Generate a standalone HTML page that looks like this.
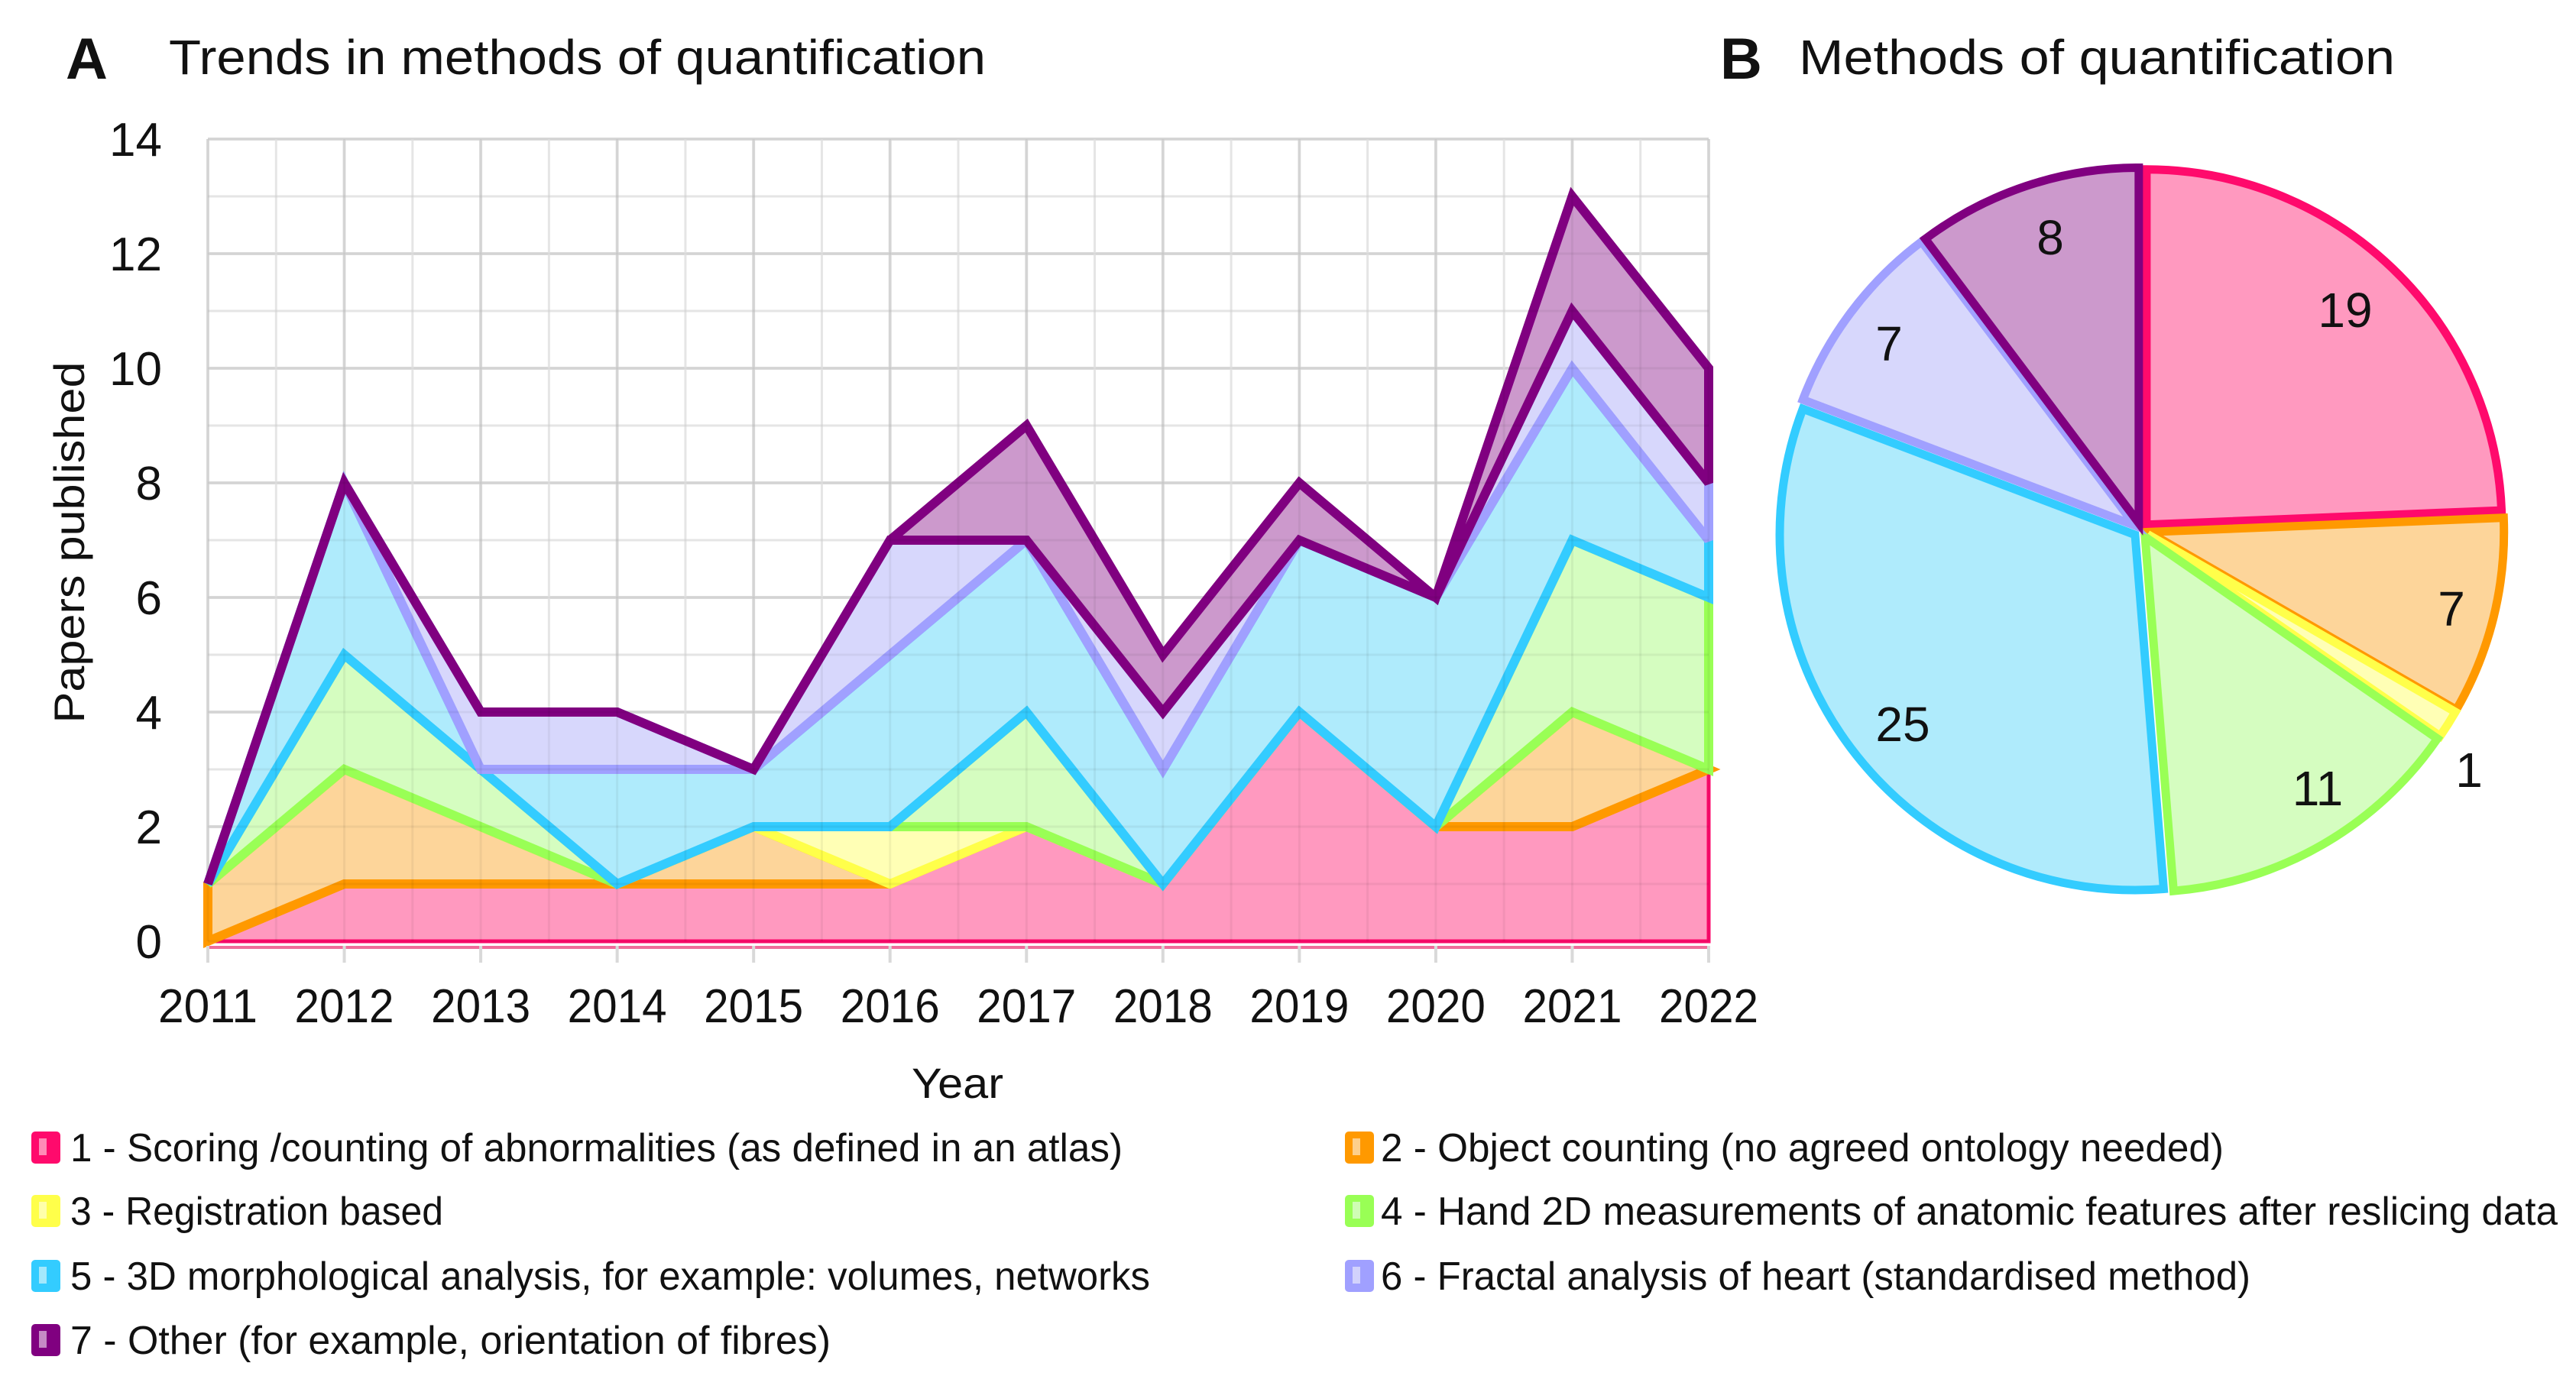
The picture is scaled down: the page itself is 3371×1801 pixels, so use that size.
<!DOCTYPE html>
<html><head><meta charset="utf-8"><style>
html,body{margin:0;padding:0;background:#fff;}
svg{display:block;}
text{font-family:"Liberation Sans",sans-serif;fill:#111;}
</style></head><body>
<svg id="fig" width="3371" height="1801" viewBox="0 0 3371 1801">
<g id="panelA">
<text x="86" y="103" font-size="76" font-weight="bold">A</text>
<text x="221" y="97" font-size="64" textLength="1069" lengthAdjust="spacingAndGlyphs">Trends in methods of quantification</text>
<g id="grid"></g>
<g id="areas"></g>
<g id="gridTop"></g>
<g id="yticks"></g>
<g id="xticks"></g>
<text x="1253" y="1437" font-size="56" text-anchor="middle" textLength="120" lengthAdjust="spacingAndGlyphs">Year</text>
<text transform="translate(110,710) rotate(-90)" font-size="56" text-anchor="middle" textLength="473" lengthAdjust="spacingAndGlyphs">Papers published</text>
</g>
<g id="panelB">
<text x="2251" y="103" font-size="76" font-weight="bold">B</text>
<text x="2354" y="97" font-size="64" textLength="780" lengthAdjust="spacingAndGlyphs">Methods of quantification</text>
<g id="pie"></g>
</g>
<g id="legend"></g>
</svg>
<script>
const years = [2011,2012,2013,2014,2015,2016,2017,2018,2019,2020,2021,2022];
const s1 = [0,1,1,1,1,1,2,1,4,2,2,3];
const s2 = [1,2,1,0,1,0,0,0,0,0,2,0];
const s3 = [0,0,0,0,0,1,0,0,0,0,0,0];
const s4 = [0,2,1,0,0,0,2,0,0,0,3,3];
const s5 = [0,3,0,2,1,3,3,2,3,4,3,1];
const s6 = [0,0,1,1,0,2,0,1,0,0,1,1];
const s7 = [0,0,0,0,0,0,2,1,1,0,2,2];
const yTicks = [0,2,4,6,8,10,12,14];
const pieValues = [19,7,1,11,25,7,8];
const legendLabels = [
"1 - Scoring /counting of abnormalities (as defined in an atlas)",
"2 - Object counting (no agreed ontology needed)",
"3 - Registration based",
"4 - Hand 2D measurements of anatomic features after reslicing data",
"5 - 3D morphological analysis, for example: volumes, networks",
"6 - Fractal analysis of heart (standardised method)",
"7 - Other (for example, orientation of fibres)"];

const NS='http://www.w3.org/2000/svg';
const fills=['#ff99bf','#fdd59a','#ffffb5','#d5fdc0','#afebfc','#d7d7fc','#cc99cc'];
const strokes=['#ff0a6c','#ff9900','#ffff4a','#99ff55','#33ccff','#a0a0ff','#800080'];
const X0=272,X1=2236,Y0=1232,Y14=182;
const xs=i=>X0+(X1-X0)*i/(years.length-1);
const ys=v=>Y0-(Y0-Y14)*v/14;
function mk(tag,attrs,parent){const e=document.createElementNS(NS,tag);for(const k in attrs)e.setAttribute(k,attrs[k]);parent.appendChild(e);return e;}

const grid=document.getElementById('grid'), gridTop=document.getElementById('gridTop');
for(let v=0;v<=14;v++){
  const l=mk('line',{x1:X0,x2:X1,y1:ys(v),y2:ys(v),stroke:v%2?'#f2f2f2':'#e0e0e0','stroke-width':v%2?3:4},grid);
  
  
  const t=mk('line',{x1:X0,x2:X1,y1:ys(v),y2:ys(v),stroke:'rgba(0,0,0,0.05)','stroke-width':3},gridTop);
  
  
}
for(let i=0;i<=2*(years.length-1);i++){
  const x=X0+(X1-X0)*i/(2*(years.length-1));
  const l=mk('line',{x1:x,x2:x,y1:Y14,y2:Y0,stroke:i%2?'#f2f2f2':'#e0e0e0','stroke-width':i%2?3:4},grid);
  
  
  const t=mk('line',{x1:x,x2:x,y1:Y14,y2:Y0,stroke:'rgba(0,0,0,0.05)','stroke-width':3},gridTop);
  
  
}

const series=[s1,s2,s3,s4,s5,s6,s7];
const areas=document.getElementById('areas');
let base=years.map(()=>0);
series.forEach((s,k)=>{
  const top=base.map((b,i)=>b+s[i]);
  const pts=[];
  top.forEach((v,i)=>pts.push(xs(i)+','+ys(v)));
  for(let i=years.length-1;i>=0;i--)pts.push(xs(i)+','+ys(base[i]));
  const p=mk('polygon',{points:pts.join(' '),fill:fills[k],stroke:strokes[k],'stroke-width':k===0?5:12,'stroke-linejoin':'miter','stroke-miterlimit':3},areas);
  
  
  base=top;
});
const ax=mk('line',{x1:X0,x2:X1,y1:Y0+8,y2:Y0+8,stroke:'#ef6c9a','stroke-width':4},areas);



const yt=document.getElementById('yticks');
yTicks.forEach(v=>{
  const t=mk('text',{x:212,y:ys(v)+22,'font-size':62,'text-anchor':'end'},yt);
  t.textContent=v;
  
  
});
const xt=document.getElementById('xticks');
years.forEach((y,i)=>{
  const tk=mk('line',{x1:xs(i),x2:xs(i),y1:Y0+6,y2:Y0+28,stroke:'#d9d9d9','stroke-width':4},xt);
  
  
  const t=mk('text',{x:xs(i),y:1338,'font-size':62,'text-anchor':'middle',textLength:130,lengthAdjust:'spacingAndGlyphs'},xt);
  t.textContent=y;
  
  
});

const pie=document.getElementById('pie');
const CX=2802,CY=694,R=465,EX=10;
const total=pieValues.reduce((a,b)=>a+b,0);
const labelPos=[[3069,428],[3208,819],[3231,1030],[3033,1054],[2490,970],[2472,472],[2683,333]];
let a0=0;
pieValues.forEach((v,k)=>{
  const a1=a0+v/total*2*Math.PI, am=(a0+a1)/2;
  const cx=CX+EX*Math.sin(am), cy=CY-EX*Math.cos(am);
  const p1=[cx+R*Math.sin(a0),cy-R*Math.cos(a0)], p2=[cx+R*Math.sin(a1),cy-R*Math.cos(a1)];
  const large=(a1-a0)>Math.PI?1:0;
  const d=`M${cx},${cy} L${p1[0]},${p1[1]} A${R},${R} 0 ${large} 1 ${p2[0]},${p2[1]} Z`;
  const sl=mk('path',{d:d,fill:fills[k],stroke:strokes[k],'stroke-width':11,'stroke-linejoin':'miter'},pie);
  
  
  a0=a1;
});
pieValues.forEach((v,k)=>{
  const t=mk('text',{x:labelPos[k][0],y:labelPos[k][1],'font-size':64,'text-anchor':'middle'},pie);
  t.textContent=v;
  
  
});

const lg=document.getElementById('legend');
const rowsY=[1502,1585,1670,1754];
const lens=[1377,1103,488,1540,1413,1138,995];
legendLabels.forEach((lab,k)=>{
  const col=k%2, row=Math.floor(k/2);
  const sx=col?1760:41, tx=col?1807:92, y=rowsY[row];
  const g=mk('g',{},lg);
  
  
  mk('rect',{x:sx,y:y-21,width:38,height:42,rx:5,fill:strokes[k]},g);
  mk('rect',{x:sx+10,y:y-12,width:10,height:22,fill:fills[k],opacity:0.9},g);
  const t=mk('text',{x:tx,y:y+18,'font-size':52,textLength:lens[k],lengthAdjust:'spacingAndGlyphs'},g);
  t.textContent=lab;
});
</script>
</body></html>
